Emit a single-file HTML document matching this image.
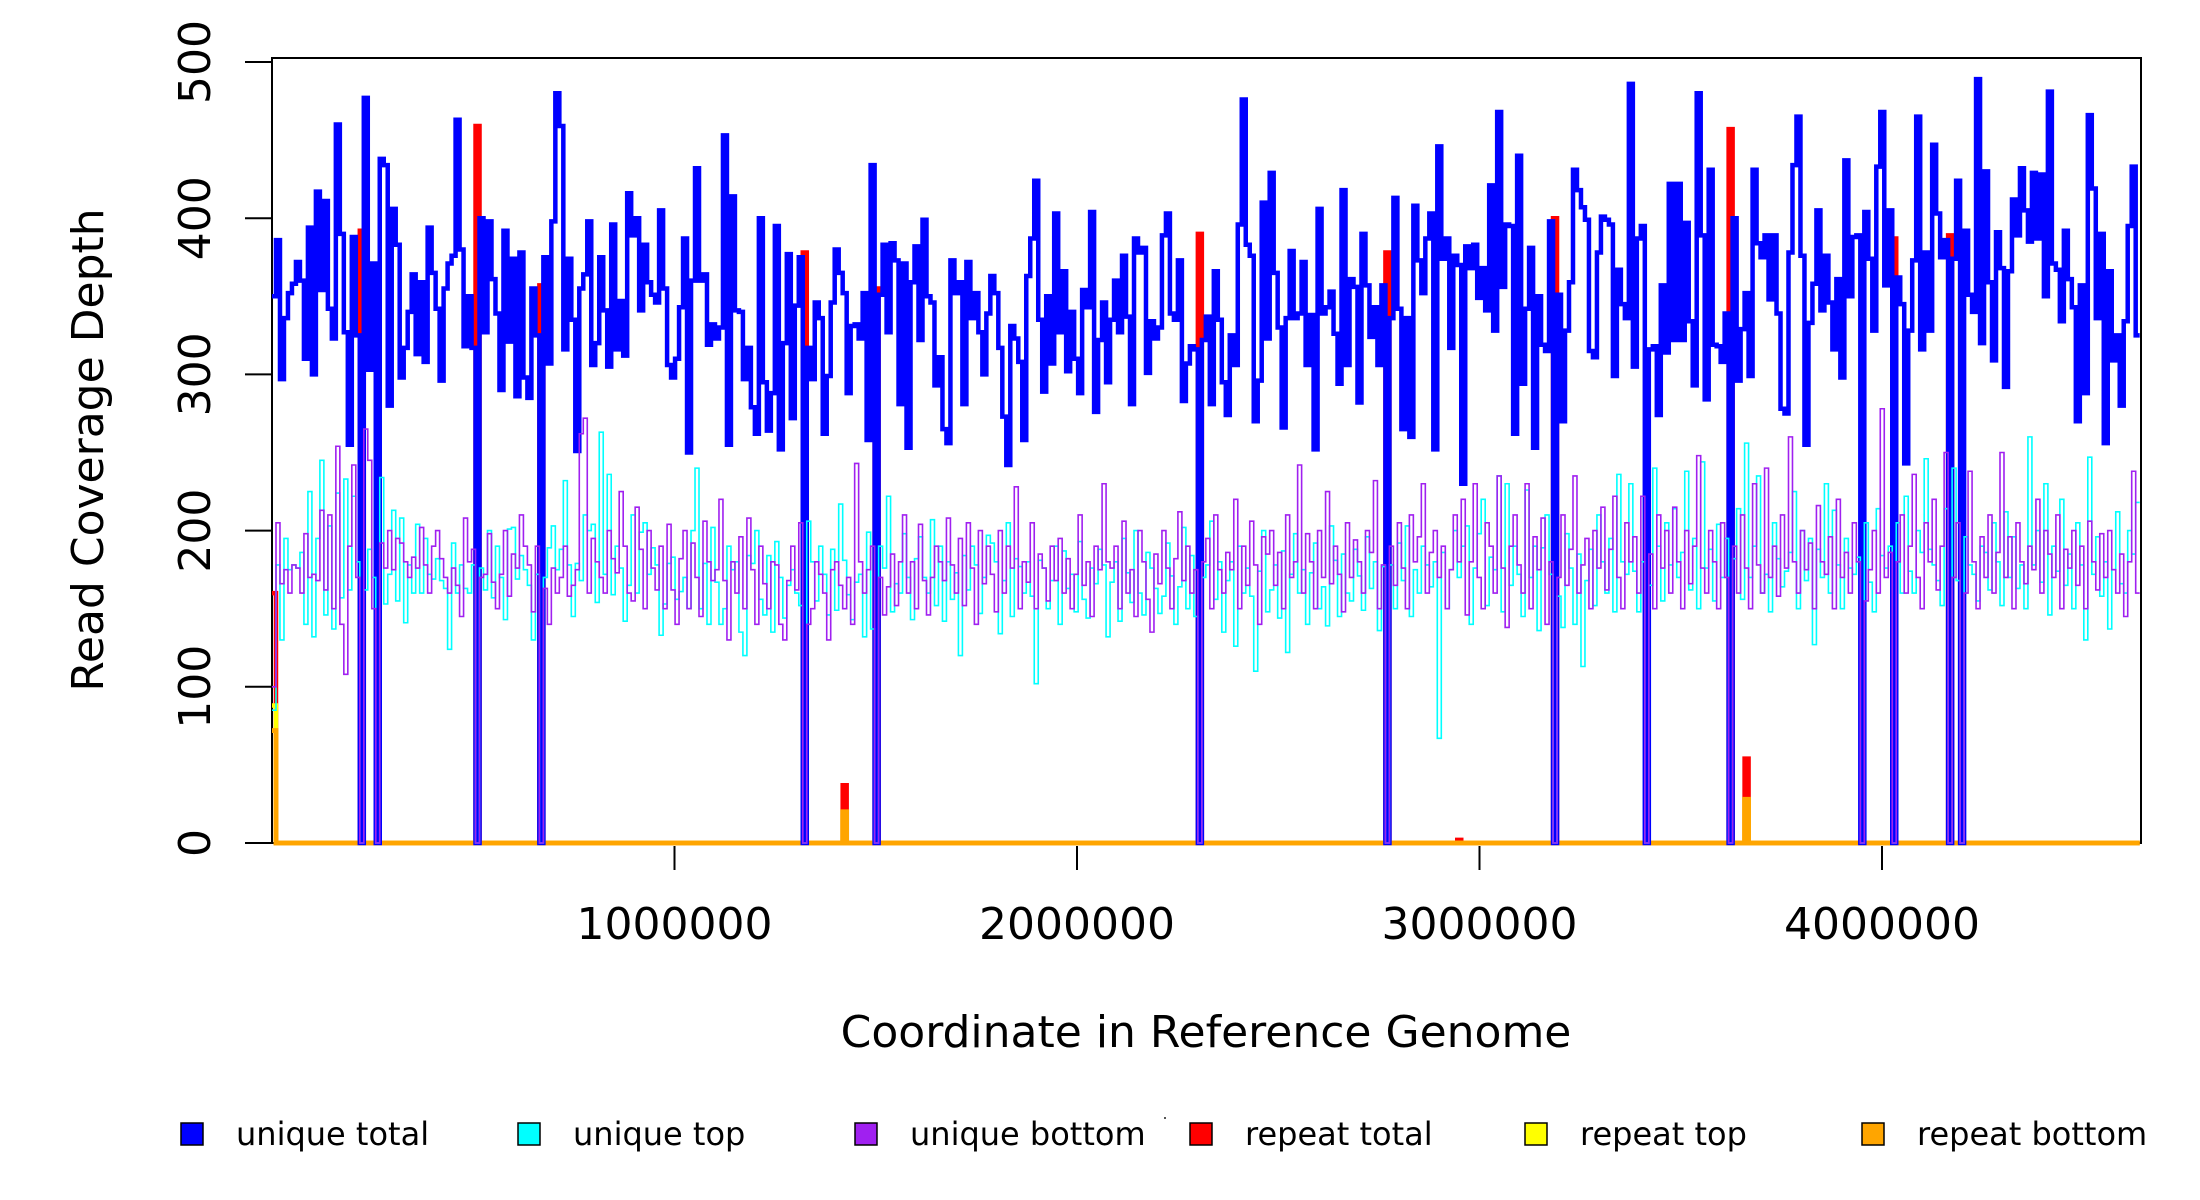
<!DOCTYPE html>
<html><head><meta charset="utf-8"><style>
html,body{margin:0;padding:0;background:#fff;}
svg{display:block;font-family:"DejaVu Sans","Liberation Sans",sans-serif;}
</style></head><body>
<svg id="chart" width="2200" height="1200" viewBox="0 0 2200 1200" xmlns="http://www.w3.org/2000/svg">
<defs><clipPath id="plotclip"><rect x="272" y="58" width="1869" height="790"/></clipPath></defs>
<rect x="0" y="0" width="2200" height="1200" fill="#fff"/>
<rect x="272" y="58" width="1869" height="785" fill="none" stroke="#000" stroke-width="2"/>
<g id="series" clip-path="url(#plotclip)"></g>
<g id="axes"></g>
<text x="103" y="450" font-size="44" text-anchor="middle" transform="rotate(-90 103 450)">Read Coverage Depth</text>
<text x="1206" y="1047" font-size="44" text-anchor="middle">Coordinate in Reference Genome</text>
<g id="legend"></g>
<rect x="1164" y="1117" width="2" height="2" fill="#555"/>
</svg>
<script>
const binSize = 9915;
const yTicks = [0, 100, 200, 300, 400, 500];
const xTicks = [1000000, 2000000, 3000000, 4000000];
const xTickLabels = ["1000000", "2000000", "3000000", "4000000"];
const seriesNames = ["unique total", "unique top", "unique bottom", "repeat total", "repeat top", "repeat bottom"];
const seriesColors = ["#0000ff", "#00ffff", "#a020f0", "#ff0000", "#ffff00", "#ffa500"];

const uniqueTotal = [
350,386,297,336,352,358,372,360,310,394,300,417,354,411,342,323,460,390,327,255,
388,325,0,477,303,371,0,438,434,280,406,383,298,317,340,364,313,359,308,394,
365,342,296,355,371,376,463,380,318,350,317,0,400,327,398,361,339,290,392,321,
374,286,378,298,285,355,325,0,375,307,398,480,459,316,374,335,251,355,364,398,
306,320,375,341,305,396,316,347,312,416,389,400,341,383,359,351,346,405,355,306,
298,310,343,387,250,360,432,360,364,319,332,323,330,453,255,414,341,
340,297,317,279,262,400,295,264,288,395,252,320,377,272,344,375,0,317,297,346,
336,262,299,346,380,365,352,288,331,332,323,352,258,434,0,351,383,327,384,373,
281,371,253,359,382,322,399,350,346,293,311,265,256,373,352,359,281,372,
336,352,327,300,339,363,352,317,273,242,331,323,308,258,363,387,
424,335,289,350,307,403,327,366,302,340,310,288,354,343,404,276,
322,346,295,335,360,327,376,337,281,387,378,381,301,334,323,330,389,403,
339,335,373,283,307,318,316,0,322,337,281,366,
335,295,274,325,306,396,476,383,376,270,296,410,323,429,365,330,
266,336,379,336,339,372,306,338,252,406,339,343,353,326,294,418,
306,361,356,282,390,357,324,343,306,357,0,336,413,342,265,336,
260,408,373,352,387,403,252,446,374,387,317,376,370,230,382,368,
383,349,368,341,421,328,468,356,396,395,262,440,294,342,381,253,
350,319,315,398,0,351,270,328,359,431,418,407,399,315,311,378,
401,399,396,299,367,345,336,486,305,387,395,0,316,318,274,357,314,422,322,
422,322,397,334,293,480,389,284,431,319,318,308,339,0,400,296,329,352,
299,431,384,375,389,348,389,339,278,275,378,434,465,376,255,333,358,405,
341,376,346,316,361,298,437,350,388,389,0,404,374,328,433,468,357,405,
0,362,345,243,328,373,465,316,378,328,447,403,375,386,0,374,424,0,
392,351,340,489,320,430,359,309,391,368,292,366,412,389,432,405,385,429,
387,428,350,481,371,367,334,392,361,343,270,357,288,466,419,336,390,256,
366,309,325,280,334,395,433,325
];

const uniqueTop = [
85,178,130,195,175,178,176,186,140,225,132,195,245,146,203,137,224,157,233,162,
222,180,0,162,188,170,0,234,153,172,213,155,208,141,178,160,204,160,195,172,
169,182,168,163,124,192,160,178,163,160,178,0,176,162,200,157,190,170,143,201,
202,169,184,175,165,130,172,0,170,189,203,175,188,232,178,145,179,168,210,200,
204,154,263,172,236,159,190,176,142,165,210,160,199,205,172,189,178,133,153,179,
183,156,161,170,150,200,240,150,179,140,202,167,140,150,190,175,180,135,120,184,
179,200,156,146,184,135,193,170,144,165,175,160,152,0,206,180,155,190,172,146,
188,149,217,181,159,143,167,172,132,199,137,0,190,176,222,148,166,160,198,170,
143,182,196,170,160,207,152,190,142,180,156,173,120,184,162,190,178,147,170,197,
192,180,134,168,205,145,182,177,160,180,158,102,181,176,150,168,190,140,187,163,
172,148,193,156,144,176,166,188,178,132,167,180,142,195,173,154,200,160,146,186,
176,163,147,158,192,171,140,164,202,150,184,145,0,170,178,206,156,180,135,168,
180,126,190,160,176,158,110,174,200,148,162,178,144,187,122,172,198,160,175,140,
173,192,150,164,139,203,181,145,185,160,155,188,171,149,196,163,180,136,177,0,
178,150,192,168,203,145,175,160,190,178,164,180,67,186,150,175,200,170,190,203,
140,176,198,220,152,183,175,235,148,230,165,190,172,145,226,170,190,136,189,210,
172,0,158,138,198,176,140,185,113,168,188,152,210,180,160,195,148,236,180,172,
230,174,148,180,0,165,240,190,155,205,178,214,170,186,238,162,195,150,244,176,
188,155,204,170,195,0,182,214,156,256,170,190,235,160,172,148,205,182,164,174,
186,225,150,200,168,195,127,188,170,230,160,213,178,150,195,176,172,183,0,205,
167,148,214,184,176,190,0,205,160,222,174,160,200,186,246,188,178,168,152,214,
0,240,168,0,196,178,172,155,190,186,162,205,180,152,212,170,196,163,178,150,
260,178,200,167,230,146,190,174,220,165,185,150,205,178,130,247,172,196,158,180,
137,175,212,166,160,200,185,218
];

const uniqueBottom = [
100,205,166,175,160,178,176,160,198,170,172,168,213,162,210,150,254,140,108,190,
242,170,0,265,245,150,0,192,176,200,175,195,192,180,170,183,176,202,178,160,
190,200,182,170,160,176,165,145,208,180,188,0,170,172,198,167,150,172,200,158,
185,176,210,190,178,148,190,0,163,140,176,160,170,190,158,165,175,262,272,160,
195,180,170,160,200,182,173,225,190,160,155,215,188,150,200,176,162,190,150,204,
162,140,182,200,150,192,170,145,206,180,168,175,220,168,130,180,160,196,150,208,
175,140,190,166,150,180,178,140,130,168,190,162,205,0,140,150,180,172,160,130,
175,180,165,150,170,140,243,180,160,175,190,0,170,146,164,185,152,180,210,160,
180,150,204,168,146,170,190,180,168,208,178,160,195,152,205,176,140,200,166,190,
172,148,200,160,190,176,228,150,180,167,205,150,185,176,155,190,168,195,160,182,
150,172,210,165,180,145,190,175,230,180,176,190,150,206,160,175,145,200,180,156,
135,185,166,200,176,150,182,212,168,190,160,175,0,180,195,150,210,175,160,186,
175,220,150,190,165,206,178,140,196,185,200,165,186,150,210,170,180,242,160,198,
180,150,200,170,225,166,190,172,148,205,170,194,180,160,200,186,232,150,178,0,
190,165,205,176,150,210,180,196,230,160,186,200,170,190,150,175,210,180,220,146,
180,230,170,150,205,190,160,235,176,138,190,210,178,160,230,150,196,175,208,140,
180,0,170,210,165,188,235,160,178,195,150,200,176,215,162,188,222,170,150,205,
180,196,160,222,0,185,150,210,176,200,160,215,180,150,200,166,190,248,176,160,
200,180,150,205,170,0,190,160,210,176,150,230,178,160,240,170,190,158,210,176,
260,180,160,200,175,192,150,216,180,172,196,150,220,170,186,160,205,180,0,155,
175,200,160,278,170,186,0,180,210,160,190,236,170,150,205,180,220,162,190,250,
0,170,205,0,160,238,180,150,196,170,210,160,186,250,170,196,150,205,180,166,
190,175,220,160,200,185,170,210,150,188,176,200,165,190,150,206,180,162,198,170,
200,175,160,185,145,180,238,160
];

// sparse repeat series: bin index -> value (all other bins are zero)
const repeatTotalBins = [0, 22, 51, 67, 133, 143, 151, 232, 279, 297, 321, 365, 369, 406, 420];
const repeatTotalVals = [160, 392, 459, 357, 378, 37, 355, 390, 378, 2, 400, 457, 54, 387, 389];
const repeatTopBins = [0, 143, 369];
const repeatTopVals = [88, 17, 26];
const repeatBottomBins = [0, 143, 369];
const repeatBottomVals = [72, 20, 28];

const NS = "http://www.w3.org/2000/svg";
const X0 = 272, X1 = 2141, XMAX = 4643500;
const Y0 = 843, YPX = 1.562;
function xScale(v) { return X0 + v / XMAX * (X1 - X0); }
function yScale(v) { return Y0 - v * YPX; }

function expand(bins, vals) {
  const arr = new Array(uniqueTotal.length).fill(0);
  bins.forEach((b, k) => { arr[b] = vals[k]; });
  return arr;
}

function stepPath(values) {
  let d = "M" + xScale(0).toFixed(2) + " " + yScale(values[0]).toFixed(2);
  for (let i = 0; i < values.length; i++) {
    const y = yScale(values[i]).toFixed(2);
    if (i > 0) d += "V" + y;
    d += "H" + xScale((i + 1) * binSize).toFixed(2);
  }
  return d;
}

const seriesLayer = document.getElementById("series");
function addSeries(values, color, width, name) {
  const p = document.createElementNS(NS, "path");
  p.setAttribute("d", stepPath(values));
  p.setAttribute("fill", "none");
  p.setAttribute("stroke", color);
  p.setAttribute("stroke-width", width);
  p.setAttribute("stroke-linejoin", "miter");
  
  
  seriesLayer.appendChild(p);
}
addSeries(expand(repeatTotalBins, repeatTotalVals), seriesColors[3], 4.5, "repeat-total-line");
addSeries(expand(repeatTopBins, repeatTopVals), seriesColors[4], 4.5, "repeat-top-line");
addSeries(expand(repeatBottomBins, repeatBottomVals), seriesColors[5], 4.8, "repeat-bottom-line");
addSeries(uniqueTotal, seriesColors[0], 4.5, "unique-total-line");
addSeries(uniqueTop, seriesColors[1], 1.6, "unique-top-line");
addSeries(uniqueBottom, seriesColors[2], 1.6, "unique-bottom-line");

const axes = document.getElementById("axes");
function line(x1, y1, x2, y2, name) {
  const l = document.createElementNS(NS, "line");
  l.setAttribute("x1", x1); l.setAttribute("y1", y1);
  l.setAttribute("x2", x2); l.setAttribute("y2", y2);
  l.setAttribute("stroke", "#000"); l.setAttribute("stroke-width", "2");
  
  
  axes.appendChild(l);
}
function text(x, y, s, size, anchor, rot, name) {
  const t = document.createElementNS(NS, "text");
  t.setAttribute("x", x); t.setAttribute("y", y);
  t.setAttribute("font-size", size);
  t.setAttribute("text-anchor", anchor);
  if (rot) t.setAttribute("transform", "rotate(" + rot + " " + x + " " + y + ")");
  t.textContent = s;
  
  
  return t;
}
yTicks.forEach(v => {
  line(245, yScale(v), X0, yScale(v), "y-tick");
  axes.appendChild(text(210, yScale(v), String(v), 44, "middle", -90, "y-tick-label"));
});
xTicks.forEach((v, k) => {
  line(xScale(v), Y0 + 3, xScale(v), 870, "x-tick");
  axes.appendChild(text(xScale(v), 939, xTickLabels[k], 44, "middle", 0, "x-tick-label"));
});

const legend = document.getElementById("legend");
const legendX = [192, 529, 866, 1201, 1536, 1873];
seriesNames.forEach((n, k) => {
  const g = document.createElementNS(NS, "g");
  
  
  const r = document.createElementNS(NS, "rect");
  r.setAttribute("x", legendX[k] - 11); r.setAttribute("y", 1123);
  r.setAttribute("width", 22); r.setAttribute("height", 22);
  r.setAttribute("fill", seriesColors[k]); r.setAttribute("stroke", "#000"); r.setAttribute("stroke-width", "1.5");
  
  
  g.appendChild(r);
  g.appendChild(text(legendX[k] + 44, 1145, n, 32, "start", 0, "legend-label"));
  legend.appendChild(g);
});
</script>
</body></html>
